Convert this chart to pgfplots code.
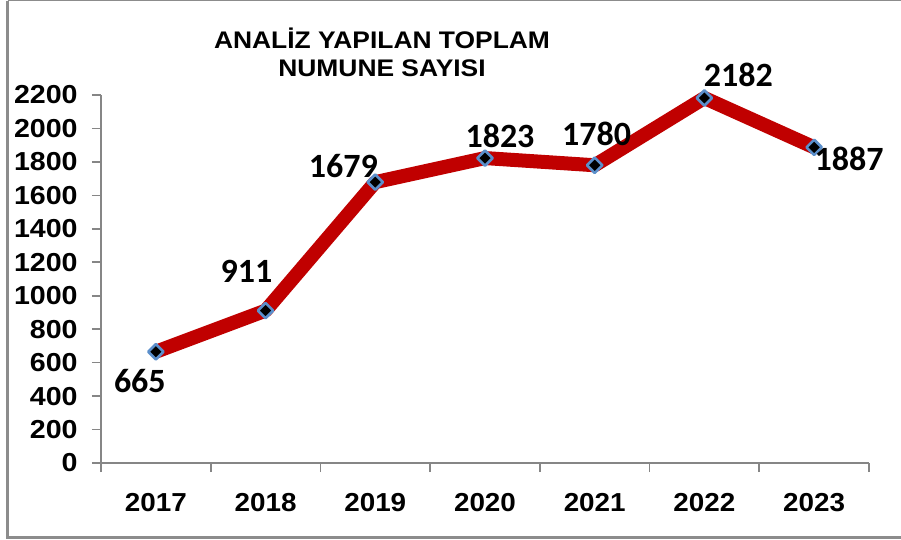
\documentclass[border=0pt]{standalone}
\usepackage{pgfplots}
\pgfplotsset{compat=1.18}
\usepackage{pgfplotstable}
\usepackage{fontspec}
\setmainfont{Liberation Sans}
\newfontfamily\carlito{Carlito}
\definecolor{linered}{HTML}{C00000}
\definecolor{mkblue}{HTML}{5B8FCB}
\definecolor{axgray}{HTML}{868686}
\definecolor{framegray}{HTML}{8C8C8C}
\pgfplotstableread{
x y dx dy
0.5 665 -8 -14.5
1.5 911 -9.5 19.5
2.5 1679 -16 8
3.5 1823 7.5 11
4.5 1780 1 15.5
5.5 2182 17 11.5
6.5 1887 17.5 -6
}\datatable
\begin{document}
\begin{tikzpicture}
\begin{scope}[x=0.5pt,y=-0.5pt]
\useasboundingbox (0,0) rectangle (901,540);
\fill[white] (0,0) rectangle (901,540);
\draw[framegray, line width=1.5pt] (7.5,1) -- (7.5,537.5) -- (905,537.5);
\draw[framegray, line width=0.8pt] (7.5,0.5) -- (905,0.5);
\node[font=\bfseries\fontsize{12}{14}\selectfont, xscale=1.1, align=center, inner sep=0pt] at (382,52) {ANALİZ YAPILAN TOPLAM\\NUMUNE SAYISI};
\end{scope}
\begin{axis}[
  at={(50.5pt,-231.5pt)}, anchor=south west,
  scale only axis, width=384pt, height=184pt,
  xmin=0, xmax=7, ymin=0, ymax=2200,
  axis lines*=left,
  axis line style={axgray, line width=0.8pt},
  tick align=outside,
  major tick length=4.5pt, minor tick length=4.5pt,
  xtick={0.5,1.5,...,6.5},
  xticklabels={2017,2018,2019,2020,2021,2022,2023},
  minor xtick={0,1,...,7},
  major x tick style={draw=none},
  every minor x tick/.style={axgray, line width=0.8pt},
  ytick={0,200,...,2200},
  y tick style={axgray, line width=0.8pt},
  /pgf/number format/assume math mode=true,
  /pgf/number format/1000 sep={},
  yticklabel style={font=\bfseries\fontsize{13}{15}\selectfont, xscale=1.1, anchor=east, xshift=-3pt},
  xticklabel style={font=\bfseries\fontsize{13}{15}\selectfont, xscale=1.07, anchor=north, yshift=-7pt},
  clip=false,
  nodes near coords,
  visualization depends on={\thisrow{dx}\as\dx},
  visualization depends on={\thisrow{dy}\as\dy},
  every node near coord/.style={font=\carlito\bfseries\fontsize{17}{19}\selectfont, anchor=center, xshift=\dx pt, yshift=\dy pt, text=black},
]
\addplot[linered, line width=7pt, line join=round,
  mark=square*, mark size=2.7pt,
  mark options={fill=black, draw=mkblue, line width=1.3pt, solid, rotate=45},
  point meta=explicit symbolic]
  table[x=x, y=y, meta=y] {\datatable};
\end{axis}
\end{tikzpicture}
\end{document}
